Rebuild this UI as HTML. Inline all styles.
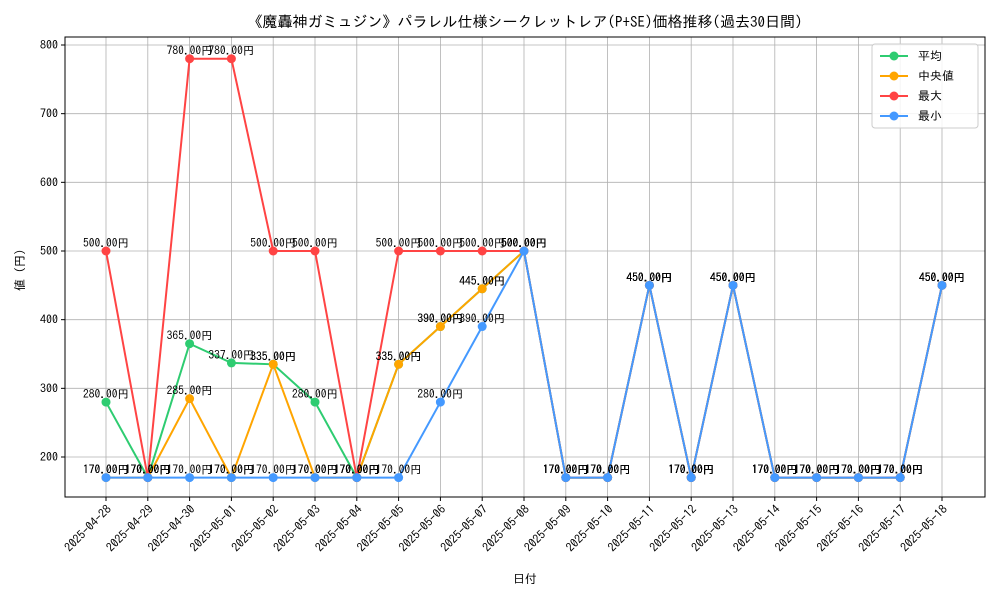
<!DOCTYPE html>
<html><head><meta charset="utf-8"><style>
body{margin:0;background:#fff;font-family:"IPAGothic","Liberation Sans","Noto Sans CJK JP",sans-serif;}
svg text{font-family:"IPAGothic","Noto Sans CJK JP",sans-serif;}
</style></head><body>
<svg id="c" width="1000" height="600" xmlns="http://www.w3.org/2000/svg"></svg>
<script>
const dates=["2025-04-28","2025-04-29","2025-04-30","2025-05-01","2025-05-02","2025-05-03","2025-05-04","2025-05-05","2025-05-06","2025-05-07","2025-05-08","2025-05-09","2025-05-10","2025-05-11","2025-05-12","2025-05-13","2025-05-14","2025-05-15","2025-05-16","2025-05-17","2025-05-18"];
const meanVals=[280,170,365,337,335,280,170,335,390,445,500,170,170,450,170,450,170,170,170,170,450];
const medianVals=[170,170,285,170,335,170,170,335,390,445,500,170,170,450,170,450,170,170,170,170,450];
const maxVals=[500,170,780,780,500,500,170,500,500,500,500,170,170,450,170,450,170,170,170,170,450];
const minVals=[170,170,170,170,170,170,170,170,280,390,500,170,170,450,170,450,170,170,170,170,450];
const yTicks=[200,300,400,500,600,700,800];
const seriesNames=["平均","中央値","最大","最小"];
const seriesColors=["#2ecc71","#ffa500","#ff4444","#4499ff"];
const series=[meanVals,medianVals,maxVals,minVals];

const svg=document.getElementById('c');const NS="http://www.w3.org/2000/svg";
const L=65,R=985,T=37,B=497;
const x=i=>106+i*(942-106)/(dates.length-1);
const y=v=>457-(v-200)*(457-45)/600;
function el(t,a,p){const e=document.createElementNS(NS,t);for(const k in a)e.setAttribute(k,a[k]);(p||svg).appendChild(e);return e;}
function txt(s,a,p){const e=el('text',a,p);e.textContent=s;return e;}

const grid=el('g',{});
dates.forEach((d,i)=>{el('line',{x1:x(i),x2:x(i),y1:T,y2:B,stroke:'#b0b0b0','stroke-width':0.8},grid);});
yTicks.forEach(v=>{el('line',{x1:L,x2:R,y1:y(v),y2:y(v),stroke:'#b0b0b0','stroke-width':0.8},grid);});

const frame=el('rect',{x:L,y:T,width:R-L,height:B-T,fill:'none',stroke:'#000','stroke-width':1});


const ya=el('g',{});
yTicks.forEach(v=>{el('line',{x1:L-4,x2:L,y1:y(v),y2:y(v),stroke:'#000'},ya);
 txt(String(v),{x:L-7,y:y(v)+4,'text-anchor':'end','font-size':12},ya);});
const xa=el('g',{});
dates.forEach((d,i)=>{el('line',{x1:x(i),x2:x(i),y1:B,y2:B+4,stroke:'#000'},xa);
 txt(d,{x:x(i)+6,y:B+13,'text-anchor':'end','font-size':12,transform:`rotate(-45 ${x(i)+6} ${B+13})`},xa);});

const t=txt("《魔轟神ガミュジン》パラレル仕様シークレットレア(P+SE)価格推移(過去30日間)",{x:525,y:27,'text-anchor':'middle','font-size':15});

const xl=txt("日付",{x:525,y:583,'text-anchor':'middle','font-size':12});

const yl=txt("値（円）",{x:24,y:267,'text-anchor':'middle','font-size':12,transform:'rotate(-90 24 267)'});


series.forEach((vals,s)=>{
 const g=el('g',{});
 el('polyline',{points:vals.map((v,i)=>x(i)+','+y(v)).join(' '),fill:'none',stroke:seriesColors[s],'stroke-width':2},g);
 vals.forEach((v,i)=>{const c=el('circle',{cx:x(i),cy:y(v),r:4.5,fill:seriesColors[s]},g);
  });
});
const lg=el('g',{});
series.forEach(vals=>vals.forEach((v,i)=>{txt(v.toFixed(2)+"円",{x:x(i),y:y(v)-4,'text-anchor':'middle','font-size':11.5},lg);}));

const leg=el('g',{});
el('rect',{x:872,y:44,width:106,height:84,fill:'#fff','fill-opacity':0.85,stroke:'#ccc',rx:3},leg);
seriesNames.forEach((n,s)=>{const yy=56+s*20;
 const e=el('g',{},leg);
 el('line',{x1:880,x2:908,y1:yy,y2:yy,stroke:seriesColors[s],'stroke-width':2},e);
 el('circle',{cx:894,cy:yy,r:4.5,fill:seriesColors[s]},e);
 txt(n,{x:918,y:yy+4,'font-size':12},e);});
</script>
</body></html>
